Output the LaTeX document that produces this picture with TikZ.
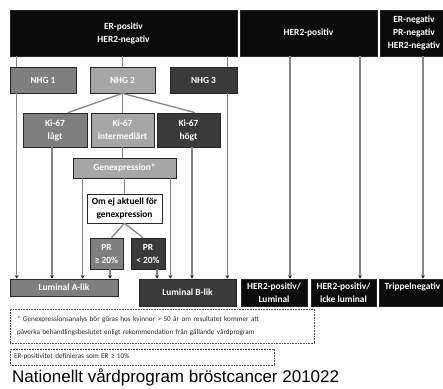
\documentclass[tikz,border=0pt]{standalone}
\usepackage{fontspec}
\setmainfont{Carlito}
\newfontfamily\captionfont{Liberation Sans}
\usetikzlibrary{arrows.meta}

\definecolor{boxblack}{HTML}{0B0B0B}
\definecolor{boxdark}{HTML}{3A3A3A}
\definecolor{boxmid}{HTML}{7F7F7F}
\definecolor{boxlight}{HTML}{A6A6A6}
\definecolor{linegray}{HTML}{858585}

\tikzset{
  subtype/.style={draw=black!85, line width=0.7pt, text=white, inner sep=0pt, align=center,
    font=\bfseries\fontsize{9.4}{13}\selectfont},
  conn/.style={linegray, line width=1.3pt},
  arr/.style={conn, -{Stealth[length=3.5pt, width=3.8pt, color=black!85]}},
  note/.style={draw=black!70, densely dotted, line width=0.6pt, align=left, inner ysep=0pt,
    font=\fontsize{7.2}{13}\selectfont, text=black!85}
}

\begin{document}
\begin{tikzpicture}[x=1pt, y=-1pt]
  \useasboundingbox (0,0) rectangle (443,388);

  % receptor groups
  \node[subtype, fill=boxblack, minimum width=227pt, minimum height=46pt] (erpos) at (123.5,33) {ER-positiv\\HER2-negativ};
  \node[subtype, fill=boxblack, minimum width=137pt, minimum height=46pt] (her2pos) at (308.5,33) {HER2-positiv};
  \node[subtype, fill=boxblack, minimum width=68pt, minimum height=46pt] (ernegtop) at (414,33) {ER-negativ\\PR-negativ\\HER2-negativ};

  % histological grade
  \node[subtype, fill=boxmid, minimum width=66pt, minimum height=26pt] (nhg1) at (43,80) {NHG 1};
  \node[subtype, fill=boxlight, minimum width=65pt, minimum height=26pt] (nhg2) at (122.5,80) {NHG 2};
  \node[subtype, fill=boxdark, minimum width=67pt, minimum height=26pt] (nhg3) at (203.5,80) {NHG 3};

  % Ki-67
  \node[subtype, fill=boxmid, minimum width=64pt, minimum height=34pt] (kilow) at (55,130) {Ki-67\\lågt};
  \node[subtype, fill=boxlight, minimum width=63pt, minimum height=34pt] (kimid) at (122.5,130) {Ki-67\\intermediärt};
  \node[subtype, fill=boxdark, minimum width=63pt, minimum height=34pt] (kihigh) at (188.5,130) {Ki-67\\högt};

  % gene expression
  \node[subtype, fill=boxlight, minimum width=103pt, minimum height=20pt] (genexp) at (124.5,168) {Genexpression*};
  \node[subtype, fill=white, text=black, minimum width=75pt, minimum height=29pt] (omej) at (124.5,208.5) {Om ej aktuell för\\genexpression};
  \node[subtype, fill=boxmid, minimum width=33pt, minimum height=31pt] (pra) at (106.5,253.5) {PR\\≥ 20\%};
  \node[subtype, fill=boxdark, minimum width=34pt, minimum height=31pt] (prb) at (148,253.5) {PR\\< 20\%};

  % subtypes
  \node[subtype, fill=boxmid, minimum width=108pt, minimum height=17pt] (luma) at (64,287.5) {Luminal A-lik};
  \node[subtype, fill=boxdark, minimum width=97pt, minimum height=27pt] (lumb) at (187.5,292.5) {Luminal B-lik};
  \node[subtype, fill=boxblack, minimum width=66pt, minimum height=27pt] (her2lum) at (274,292.5) {HER2-positiv/\\Luminal};
  \node[subtype, fill=boxblack, minimum width=65pt, minimum height=27pt] (her2non) at (343.5,292.5) {HER2-positiv/\\icke luminal};
  \node[subtype, fill=boxblack, minimum width=67pt, minimum height=27pt] (trip) at (412.5,292.5) {Trippelnegativ\\\mbox{}};

  % connectors
  \draw[conn] ([xshift=7pt]nhg1.north west |- erpos.south) -- ([xshift=7pt]nhg1.north west);
  \draw[conn] (nhg2.north |- erpos.south) -- (nhg2.north);
  \draw[conn] ([xshift=-10pt]nhg3.north east |- erpos.south) -- ([xshift=-10pt]nhg3.north east);
  \draw[conn] (nhg2.south) -- ([xshift=13pt]kilow.north);
  \draw[conn] (nhg2.south) -- (kimid.north);
  \draw[conn] (nhg2.south) -- ([xshift=6.5pt]kihigh.north);
  \draw[conn] (kimid.south) -- (kimid.south |- genexp.north);
  \draw[conn] (genexp.south) -- (omej.north);
  \draw[conn] (omej.south) -- ([xshift=5pt]pra.north);
  \draw[conn] (omej.south) -- ([xshift=-5pt]prb.north);

  % into Luminal A-lik
  \draw[arr] ([xshift=7pt]nhg1.south west) -- ([xshift=7pt]nhg1.south west |- luma.north);
  \draw[arr] ([xshift=-3pt]kilow.south) -- ([xshift=-3pt]kilow.south |- luma.north);
  \draw[arr] ([xshift=10pt]genexp.south west) -- ([xshift=10pt]genexp.south west |- luma.north);
  \draw[arr] ([xshift=3.5pt]pra.south) -- ([xshift=3.5pt]pra.south |- luma.north);

  % into Luminal B-lik
  \draw[arr] ([xshift=9pt]prb.south) -- ([xshift=9pt]prb.south |- lumb.north);
  \draw[arr] ([xshift=-6pt]genexp.south east) -- ([xshift=-6pt]genexp.south east |- lumb.north);
  \draw[arr] ([xshift=3.5pt]kihigh.south) -- ([xshift=3.5pt]kihigh.south |- lumb.north);
  \draw[arr] ([xshift=-10pt]nhg3.south east) -- ([xshift=-10pt]nhg3.south east |- lumb.north);

  % HER2 and triple negative
  \draw[arr] ([xshift=-18.5pt]her2pos.south) -- ([xshift=-18.5pt]her2pos.south |- her2lum.north);
  \draw[arr] ([xshift=51.5pt]her2pos.south) -- ([xshift=51.5pt]her2pos.south |- her2non.north);
  \draw[arr] ([xshift=9pt]ernegtop.south) -- ([xshift=9pt]ernegtop.south |- trip.north);

  % footnotes
  \node[note, inner xsep=7pt, text width=290pt, minimum height=34pt] (fnote) at (162,326)
    {* Genexpressionsanalys bör göras hos kvinnor > 50 år om resultatet kommer att\\påverka behandlingsbeslutet enligt rekommendation från gällande vårdprogram};
  \node[note, inner xsep=4pt, text width=256pt, minimum height=16pt] (ernote) at (142,357)
    {ER-positivitet definieras som ER ≥ 10\%};

  \node[anchor=west, inner sep=0pt, font=\captionfont\fontsize{17}{20}\selectfont] (caption) at (12,377)
    {Nationellt vårdprogram bröstcancer 201022};
\end{tikzpicture}
\end{document}
